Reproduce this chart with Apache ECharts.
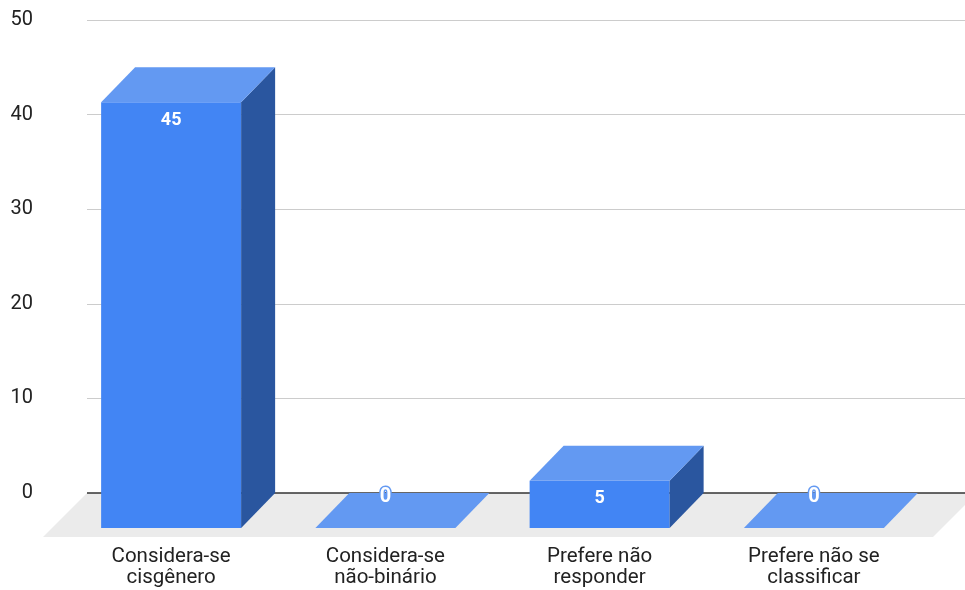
<!DOCTYPE html>
<html>
<head>
<meta charset="utf-8">
<script src="https://cdn.jsdelivr.net/npm/echarts@6/dist/echarts.min.js"></script>
<style>
html,body{margin:0;padding:0;background:#fff;}
#chart{width:965px;height:590px;}
</style>
</head>
<body>
<div id="chart"></div>
<script>
var categories = ['Considera-se\ncisgênero', 'Considera-se\nnão-binário', 'Prefere não\nresponder', 'Prefere não se\nclassificar'];
var values = [45, 0, 5, 0];
var yTicks = [0, 10, 20, 30, 40, 50];

var FONT = 'Roboto, Arial, sans-serif';
var DX = 34, DY = 35, HALF = 70;
var FRONT = '#4285f4', TOP = '#6399f2', SIDE = '#2a569f';

var chart = echarts.init(document.getElementById('chart'), null, {renderer: 'canvas'});

chart.setOption({
  animation: false,
  backgroundColor: '#fff',
  grid: [
    {left: 87, right: 0, top: 20, bottom: 97},
    {left: 64, right: 44, top: 20, bottom: 97}
  ],
  xAxis: [
    {gridIndex: 0, type: 'category', data: categories, show: true,
      axisLine: {show: false},
      axisTick: {show: false}, axisLabel: {show: false}, splitLine: {show: false}},
    {gridIndex: 1, type: 'category', data: categories,
      axisLine: {show: false}, axisTick: {show: false}, splitLine: {show: false},
      axisLabel: {fontFamily: FONT, fontSize: 20.5, lineHeight: 21, color: '#222', margin: 53, interval: 0}}
  ],
  yAxis: [
    {gridIndex: 0, type: 'value', min: yTicks[0], max: yTicks[yTicks.length - 1], interval: 10,
      axisLine: {show: false}, axisTick: {show: false},
      splitLine: {lineStyle: {color: '#cccccc', width: 1}},
      axisLabel: {fontFamily: FONT, fontSize: 20, color: '#222', margin: 54}},
    {gridIndex: 1, type: 'value', min: yTicks[0], max: yTicks[yTicks.length - 1], interval: 10,
      show: false}
  ],
  series: [
    {
      type: 'custom', xAxisIndex: 0, yAxisIndex: 0, z: 1,
      data: [[0, 0]],
      renderItem: function (params, api) {
        var cs = params.coordSys;
        var y0 = api.coord([0, 0])[1];
        var depth = 44;
        var xl = cs.x, xr = cs.x + cs.width + 12;
        return {
          type: 'group',
          children: [
            {type: 'polygon', z2: 0,
              shape: {points: [[xl, y0], [xr, y0], [xr - depth, y0 + depth], [xl - depth, y0 + depth]]},
              style: {fill: '#ebebeb'}},
            {type: 'line', z2: 1,
              shape: {x1: xl, y1: y0, x2: cs.x + cs.width, y2: y0},
              style: {stroke: '#333', lineWidth: 1.5}}
          ]
        };
      }
    },
    {
      type: 'custom', xAxisIndex: 1, yAxisIndex: 1, z: 10,
      data: values.map(function (v, i) { return [i, v]; }),
      renderItem: function (params, api) {
        var i = api.value(0), v = api.value(1);
        var p = api.coord([i, v]);
        var z = api.coord([i, 0]);
        var cx = p[0], yt = p[1], y0 = z[1];
        var fl = cx - HALF, fr = cx + HALF;
        var children = [];
        if (v > 0) {
          children.push({type: 'polygon', shape: {points: [[fl, yt + DY], [fr, yt + DY], [fr, y0 + DY], [fl, y0 + DY]]}, style: {fill: FRONT}});
          children.push({type: 'polygon', shape: {points: [[fr, yt + DY], [fr + DX, yt], [fr + DX, y0], [fr, y0 + DY]]}, style: {fill: SIDE}});
        }
        children.push({type: 'polygon', shape: {points: [[fl, yt + DY], [fr, yt + DY], [fr + DX, yt], [fl + DX, yt]]}, style: {fill: TOP}});
        var ly = v > 0 ? yt + DY + 18 : y0 + 4;
        var ts = {
          x: cx, y: ly, text: String(v), fill: '#fff', align: 'center', verticalAlign: 'middle',
          font: 'bold ' + (v > 0 ? 18 : 20) + 'px ' + FONT
        };
        if (v === 0) { ts.stroke = TOP; ts.lineWidth = 3; }
        children.push({type: 'text', z2: 10, style: ts});
        return {type: 'group', children: children};
      }
    }
  ]
});
</script>
</body>
</html>
